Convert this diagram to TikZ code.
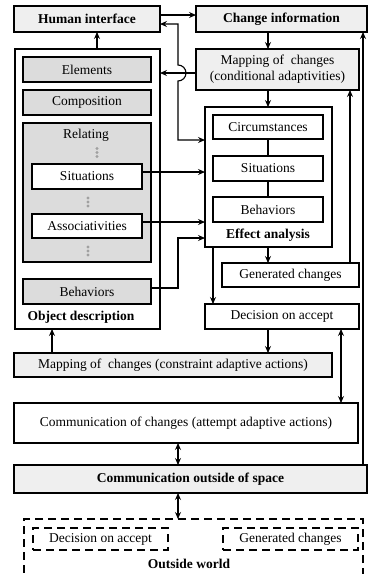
\documentclass[tikz,border=0pt]{standalone}
\usepackage{fontspec}
\setmainfont{Liberation Serif}
\newfontfamily\timesfam{Liberation Serif}
\usetikzlibrary{arrows.meta}
\definecolor{hdrfill}{HTML}{EFEFEF}
\definecolor{subfill}{HTML}{DCDCDC}
\definecolor{dotgray}{HTML}{A0A0A0}
\begin{document}
\begin{tikzpicture}[x=1pt,y=-1pt,
  line width=1.1pt,
  >={Stealth[length=7pt,width=6pt,inset=2.5pt]},
  txt/.style={font=\timesfam\fontsize{13.5}{16}\selectfont},
  btxt/.style={font=\timesfam\fontsize{13.5}{16}\selectfont\bfseries},
  box/.style={draw,rectangle,inner sep=0pt,outer sep=0pt,align=center,txt},
  hdr/.style={box,fill=hdrfill},
  sub/.style={box,fill=subfill},
  plain/.style={box,fill=white},
  frame/.style={draw,rectangle,inner sep=0pt,outer sep=0pt},
  dbox/.style={draw,rectangle,inner sep=0pt,outer sep=0pt,dash pattern=on 8pt off 5pt,txt},
  lbl/.style={inner sep=0pt,btxt},
  dots/.style={fill=dotgray,draw=none}
]
\useasboundingbox (0,0) rectangle (368,574);
\clip (0,0) rectangle (368,574);

% ---- top row ----
\node[hdr,btxt,minimum width=146pt,minimum height=26pt] (human) at (87,19) {Human interface};
\node[hdr,btxt,minimum width=171pt,minimum height=26pt] (change) at (281.5,19) {Change information};

% ---- object description column ----
\node[frame,minimum width=145pt,minimum height=280pt] (obj) at (87.5,189) {};
\node[lbl,anchor=west] (objlbl) at (27,317) {Object description};
\node[sub,minimum width=128pt,minimum height=25pt] (elem) at (87,69.5) {Elements};
\node[sub,minimum width=128pt,minimum height=25pt] (comp) at (87,102.5) {Composition};
\node[sub,minimum width=128pt,minimum height=139pt] (rel) at (87,192.5) {};
\node[inner sep=0pt,txt] (rellbl) at (86,135) {Relating};
\node[plain,minimum width=110pt,minimum height=25pt] (sitL) at (87,176.5) {Situations};
\node[plain,minimum width=110pt,minimum height=24pt] (assoc) at (87,226) {Associativities};
\node[sub,minimum width=128pt,minimum height=25pt] (behL) at (87,291.5) {Behaviors};
% ellipsis dots inside Relating
\foreach \yy in {148.5,152.5,156.5} \fill[dots] (97,\yy) circle (1.7pt);
\foreach \yy in {198,202,206} \fill[dots] (88,\yy) circle (1.7pt);
\foreach \yy in {247,251,255} \fill[dots] (88,\yy) circle (1.7pt);

% ---- right column ----
\node[hdr,minimum width=163pt,minimum height=41pt] (mapc) at (277.5,69.5) {Mapping of~ changes\\(conditional adaptivities)};
\node[frame,minimum width=127pt,minimum height=140pt] (effect) at (268.5,177) {};
\node[lbl] (efflbl) at (268,235) {Effect analysis};
\node[plain,minimum width=110pt,minimum height=24pt] (circ) at (268,127) {Circumstances};
\node[plain,minimum width=110pt,minimum height=25pt] (sitR) at (268,168.5) {Situations};
\node[plain,minimum width=110pt,minimum height=25pt] (behR) at (268,209.5) {Behaviors};
\node[plain,minimum width=137pt,minimum height=24pt] (gen) at (290.5,275) {Generated changes};
\node[plain,minimum width=154pt,minimum height=25pt] (dec) at (282,316.5) {Decision on accept};

% ---- lower rows ----
\node[hdr,minimum width=318pt,minimum height=24pt] (mapx) at (173,365) {Mapping of~ changes (constraint adaptive actions)};
\node[plain,minimum width=344pt,minimum height=40pt] (commch) at (186,423) {Communication of changes (attempt adaptive actions)};
\node[hdr,btxt,minimum width=353pt,minimum height=28pt] (commout) at (190.5,479) {Communication outside of space};

% ---- outside world ----
\node[dbox,minimum width=339pt,minimum height=82pt] (world) at (193.5,560) {};
\node[lbl] (worldlbl) at (189,564) {Outside world};
\node[dbox,minimum width=135pt,minimum height=22pt] (decO) at (100.5,539) {Decision on accept};
\node[dbox,minimum width=135pt,minimum height=22pt] (genO) at (290.5,539) {Generated changes};

% ---- helper columns for connectors ----
\coordinate (xa) at (97,0);
\coordinate (xb) at (178,0);
\coordinate (xc) at (213,0);
\coordinate (xd) at (341,0);
\coordinate (xe) at (350,0);
\coordinate (xf) at (363,0);
\coordinate (xg) at (52,0);

% ---- connectors ----
\draw[->] (obj.north -| xa) -- (human.south -| xa);
\draw[->] ([yshift=4pt]human.east) -- ([yshift=4pt]change.west);
\draw[->] (change.south -| circ) -- (mapc.north -| circ);
\draw[->] (mapc.south -| circ) -- (effect.north -| circ);
\draw (circ) -- (sitR);
\draw (sitR) -- (behR);
\draw[->] (effect.south -| circ) -- (gen.north -| circ);
\draw[->] (effect.south -| xc) -- (dec.north -| xc);
\draw[->] (gen.north -| xe) -- (mapc.south -| xe);
\draw[->] (dec.south -| circ) -- (mapx.north -| circ);
\draw[<->] (dec.south -| xd) -- (commch.north -| xd);
\draw[->] (mapx.north -| xg) -- (obj.south -| xg);
\draw[<->] (commch.south -| xb) -- (commout.north -| xb);
\draw[<->] (commout.south -| xb) -- (world.north -| xb);
\draw[->] (commout.north -| xf) -- (change.south -| xf);

% human interface <-> effect analysis, hopping over the mapping link
\draw[<->] (human.east |- 0,24) -- (xb |- 0,24) -- (xb |- 0,65)
  arc[start angle=90,end angle=-90,radius=8pt] -- (xb |- 0,140) -- (effect.west |- 0,140);
\draw[->] (mapc.west |- 0,73) -- (obj.east |- 0,73);

% relating links into effect analysis
\draw[->] (sitL.east |- 0,172) -- (effect.west |- 0,172);
\draw[->] (assoc.east |- 0,222) -- (effect.west |- 0,222);
\draw[->] (behL.east |- 0,288) -- (xb |- 0,288) -- (xb |- 0,238) -- (effect.west |- 0,238);
\end{tikzpicture}
\end{document}
